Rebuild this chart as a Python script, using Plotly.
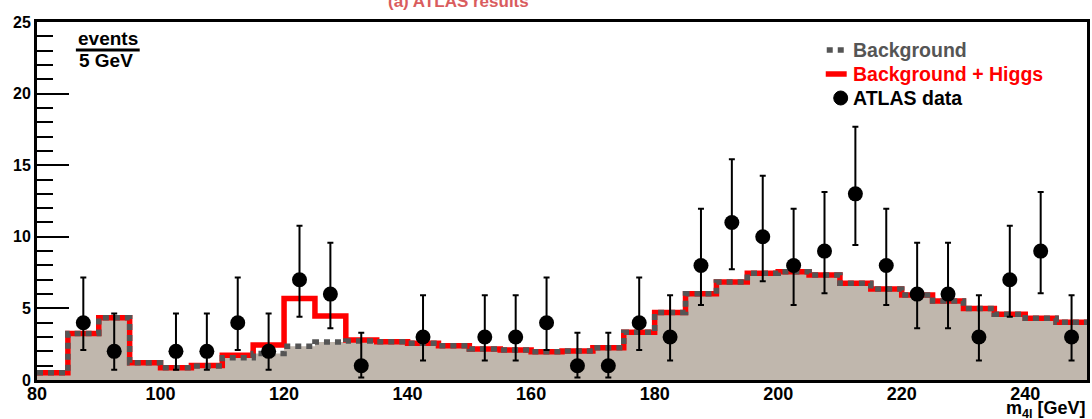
import plotly.graph_objects as go

# ---------------- data ----------------
bin_edges = [80, 85, 90, 95, 100, 105, 110, 115, 120, 125, 130, 135, 140, 145, 150, 155, 160,
             165, 170, 175, 180, 185, 190, 195, 200, 205, 210, 215, 220, 225, 230, 235, 240, 245, 250]

background = [0.5, 3.25, 4.35, 1.2, 0.85, 0.98, 1.55, 1.85, 2.35, 2.65, 2.72, 2.67, 2.56, 2.4,
              2.16, 2.1, 1.98, 2.02, 2.26, 3.33, 4.72, 6.02, 6.85, 7.45, 7.56, 7.33, 6.75,
              6.35, 5.94, 5.52, 5.0, 4.6, 4.31, 4.03]

bkg_plus_higgs = [0.5, 3.25, 4.35, 1.2, 0.85, 1.02, 1.72, 2.44, 5.7, 4.47, 2.8, 2.67, 2.56, 2.4,
                  2.16, 2.1, 1.98, 2.02, 2.26, 3.33, 4.72, 6.02, 6.85, 7.45, 7.56, 7.33, 6.75,
                  6.35, 5.94, 5.52, 5.0, 4.6, 4.31, 4.03]

data_mass = [87.5, 92.5, 102.5, 107.5, 112.5, 117.5, 122.5, 127.5, 132.5, 142.5, 152.5, 157.5,
             162.5, 167.5, 172.5, 177.5, 182.5, 187.5, 192.5, 197.5, 202.5, 207.5, 212.5,
             217.5, 222.5, 227.5, 232.5, 237.5, 242.5, 247.5]
data_events = [4, 2, 2, 2, 4, 2, 7, 6, 1, 3, 3, 3, 4, 1, 1, 4, 3, 8, 11, 10, 8, 9, 13, 8, 6, 6,
               3, 7, 9, 3]
err_up = [3.16, 2.64, 2.64, 2.64, 3.16, 2.64, 3.77, 3.58, 2.30, 2.92, 2.92, 2.92, 3.16, 2.30,
          2.30, 3.16, 2.92, 3.96, 4.42, 4.27, 3.96, 4.13, 4.68, 3.96, 3.58, 3.58, 2.92, 3.77,
          4.13, 2.92]
err_down = [1.91, 1.29, 1.29, 1.29, 1.91, 1.29, 2.58, 2.38, 0.83, 1.63, 1.63, 1.63, 1.91, 0.83,
            0.83, 1.91, 1.63, 2.77, 3.26, 3.11, 2.77, 2.94, 3.58, 2.77, 2.38, 2.38, 1.63, 2.58,
            2.94, 1.63]

y_ticks = [0, 5, 10, 15, 20, 25]
x_ticks = [80, 100, 120, 140, 160, 180, 200, 220, 240]

legend_labels = ["Background", "Background + Higgs", "ATLAS data"]
legend_colors = ["#555555", "#ff0000", "#000000"]

# --------------- figure ---------------
FONT = "Liberation Sans, Arial, Helvetica, sans-serif"
W, H = 1092, 419
ML, MR, MT, MB = 37, 2, 22, 39
PW, PH = W - ML - MR, H - MT - MB


def px(xp):
    return (xp - ML) / PW


def py(yp):
    return (H - MB - yp) / PH


step_x = bin_edges
bkg_y = background + [background[-1]]
sig_y = bkg_plus_higgs + [bkg_plus_higgs[-1]]

fig = go.Figure()

fig.add_trace(go.Scatter(
    x=step_x, y=bkg_y, mode="lines", line=dict(shape="hv", width=0, color="rgba(0,0,0,0)"),
    fill="tozeroy", fillcolor="#c0b7ad", showlegend=False, hoverinfo="skip"))

fig.add_trace(go.Scatter(
    x=step_x, y=sig_y, mode="lines", line=dict(shape="hv", width=5.5, color="#ff0000"),
    name=legend_labels[1], showlegend=False))

fig.add_trace(go.Scatter(
    x=step_x, y=bkg_y, mode="lines",
    line=dict(shape="hv", width=5.5, color="#555555", dash="6px,5px"),
    name=legend_labels[0], showlegend=False))

fig.add_trace(go.Scatter(
    x=data_mass, y=data_events, mode="markers",
    marker=dict(size=15, color="black"),
    error_y=dict(type="data", array=err_up, arrayminus=err_down, symmetric=False,
                 thickness=2, width=3, color="black"),
    name=legend_labels[2], showlegend=False))

fig.update_layout(
    width=W, height=H,
    margin=dict(l=ML, r=MR, t=MT, b=MB, pad=0),
    paper_bgcolor="white", plot_bgcolor="white",
    font=dict(family=FONT, size=16, color="black"),
    showlegend=False,
    xaxis=dict(range=[80, 250], tickmode="array", tickvals=x_ticks,
               ticktext=[f"<b>{t}</b>" for t in x_ticks],
               showgrid=False, zeroline=False, showline=True, linecolor="black", linewidth=3,
               mirror=True, ticks="", ticklabelstandoff=-5,
               tickfont=dict(size=18, family=FONT, weight="bold")),
    yaxis=dict(range=[0, 25], tickmode="array", tickvals=y_ticks,
               ticktext=[f"<b>{t}</b>" for t in y_ticks],
               showgrid=False, zeroline=False, showline=True, linecolor="black", linewidth=3,
               mirror=True, ticks="inside", ticklen=32, tickwidth=2, tickcolor="black",
               minor=dict(dtick=1, ticks="inside", ticklen=16, tickwidth=2, tickcolor="black"),
               tickfont=dict(size=16, family=FONT, weight="bold")),
)

annotations = [
    dict(text="(a) ATLAS results", x=px(460), y=py(2), xref="paper", yref="paper",
         xanchor="center", yanchor="middle", showarrow=False,
         font=dict(size=17, color="#d95c5e", family=FONT, weight="bold")),
    dict(text="events", x=px(76), y=py(39), xref="paper", yref="paper",
         xanchor="left", yanchor="middle", showarrow=False,
         font=dict(size=19, family=FONT, weight="bold")),
    dict(text="5 GeV", x=px(77), y=py(60), xref="paper", yref="paper",
         xanchor="left", yanchor="middle", showarrow=False,
         font=dict(size=19, family=FONT, weight="bold")),
    dict(text="m<sub>4l</sub> [GeV]", x=px(1091), y=py(409), xref="paper", yref="paper",
         xanchor="right", yanchor="middle", showarrow=False,
         font=dict(size=18, family=FONT, weight="bold")),
]

# manual legend
leg_y = [50, 74, 98]
for lab, col, yy in zip(legend_labels, legend_colors, leg_y):
    annotations.append(dict(text=lab, x=px(853), y=py(yy), xref="paper", yref="paper",
                            xanchor="left", yanchor="middle", showarrow=False,
                            font=dict(size=19.5, family=FONT, weight="bold", color=col)))
fig.update_layout(annotations=annotations)

fig.add_shape(type="line", xref="paper", yref="paper", x0=px(829), x1=px(849),
              y0=py(leg_y[0]), y1=py(leg_y[0]), line=dict(color="#555555", width=5.5, dash="6px,5px"))
fig.add_shape(type="line", xref="paper", yref="paper", x0=px(828), x1=px(849),
              y0=py(leg_y[1]), y1=py(leg_y[1]), line=dict(color="#ff0000", width=5.5))
fig.add_shape(type="circle", xref="paper", yref="paper", x0=px(836), x1=px(850),
              y0=py(leg_y[2] - 7), y1=py(leg_y[2] + 7), fillcolor="black",
              line=dict(color="black", width=1))

# underline of the "events" fraction label
fig.add_shape(type="line", xref="paper", yref="paper", x0=px(76), x1=px(140), y0=py(50), y1=py(50),
              line=dict(color="black", width=3))

fig.write_html("out.html")
